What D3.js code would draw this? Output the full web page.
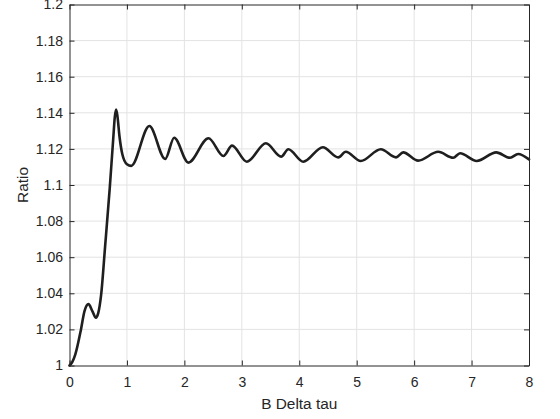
<!DOCTYPE html>
<html>
<head>
<meta charset="utf-8">
<script src="https://cdn.jsdelivr.net/npm/d3@7"></script>
<style>
  html, body { margin: 0; padding: 0; background: #fff; }
  svg { display: block; }
  text { font-family: "Liberation Sans", Arial, Helvetica, sans-serif; fill: #262626; }
</style>
</head>
<body>
<svg id="chart" width="560" height="419"></svg>
<script>
// Ratio against B·Δτ: sampled points of the response curve
const deltaTau = [0, 0.05, 0.1, 0.2, 0.26, 0.33, 0.4, 0.46, 0.5, 0.55, 0.62, 0.70, 0.76, 0.79, 0.812, 0.835, 0.87, 0.92, 1.0, 1.075,
  1.39, 1.666, 1.822, 2.07, 2.42, 2.68, 2.83, 3.087, 3.42, 3.685, 3.81, 4.07, 4.41, 4.68, 4.81, 5.07, 5.42, 5.685, 5.81, 6.07, 6.42, 6.68, 6.8, 7.09, 7.43, 7.67, 7.81, 8.0];
const ratio = [1.0, 1.002, 1.006, 1.020, 1.030, 1.034, 1.030, 1.0265, 1.029, 1.039, 1.066, 1.098, 1.125, 1.138, 1.1418, 1.138, 1.127, 1.117, 1.1115, 1.1106,
  1.1327, 1.1144, 1.1262, 1.1124, 1.1259, 1.1161, 1.1218, 1.1129, 1.1231, 1.1157, 1.1198, 1.1129, 1.1209, 1.1153, 1.1184, 1.1133, 1.1198, 1.1153, 1.1181, 1.1135, 1.1184, 1.1151, 1.1176, 1.1133, 1.1181, 1.1151, 1.1172, 1.1142];

const xTicks = [0, 1, 2, 3, 4, 5, 6, 7, 8];
const yTicks = [1, 1.02, 1.04, 1.06, 1.08, 1.1, 1.12, 1.14, 1.16, 1.18, 1.2];
const xLabel = "B Delta tau";
const yLabel = "Ratio";

const margin = { left: 69.5, right: 31, top: 4.5, bottom: 53.5 };
const W = 560, H = 419;
const svg = d3.select("#chart");

const x = d3.scaleLinear().domain([0, 8]).range([margin.left, W - margin.right]);
const y = d3.scaleLinear().domain([1, 1.2]).range([H - margin.bottom, margin.top]);

const axisColor = "#262626";
const gridColor = "#e3e3e3";
const tickLen = 5;
const tickFont = "14px";
const labelFont = "15.4px";

// grid
const grid = svg.append("g");
grid.selectAll(".gx").data(xTicks.slice(1, -1)).join("line")
  .attr("x1", d => x(d)).attr("x2", d => x(d))
  .attr("y1", y(1)).attr("y2", y(1.2))
  .attr("stroke", gridColor).attr("stroke-width", 1);
grid.selectAll(".gy").data(yTicks.slice(1, -1)).join("line")
  .attr("x1", x(0)).attr("x2", x(8))
  .attr("y1", d => y(d)).attr("y2", d => y(d))
  .attr("stroke", gridColor).attr("stroke-width", 1);

// curve
const line = d3.line()
  .x((d, i) => x(deltaTau[i]))
  .y(d => y(d))
  .curve(d3.curveMonotoneX);
svg.append("path")
  .datum(ratio)
  .attr("d", line)
  .attr("fill", "none")
  .attr("stroke", "#1f1f1f")
  .attr("stroke-width", 2.6)
  .attr("stroke-linejoin", "round")
  .attr("stroke-linecap", "round");

// axes with inward ticks, mirrored on top and right
const fmtY = d => String(+d.toFixed(2));
function styleAxis(g) {
  g.select(".domain").attr("stroke", axisColor).attr("stroke-width", 1);
  g.selectAll(".tick line").attr("stroke", axisColor).attr("stroke-width", 1);
  g.selectAll(".tick text").attr("fill", axisColor).style("font-size", tickFont)
    .style("font-family", "'Liberation Sans', Arial, Helvetica, sans-serif");
}

svg.append("g").attr("transform", `translate(0,${y(1)})`)
  .call(d3.axisBottom(x).tickValues(xTicks).tickSizeInner(-tickLen).tickSizeOuter(0).tickPadding(11.5).tickFormat(d3.format("d")))
  .call(styleAxis);
svg.append("g").attr("transform", `translate(0,${y(1.2)})`)
  .call(d3.axisTop(x).tickValues(xTicks).tickSizeInner(-tickLen).tickSizeOuter(0).tickFormat(""))
  .call(styleAxis);
svg.append("g").attr("transform", `translate(${x(0)},0)`)
  .call(d3.axisLeft(y).tickValues(yTicks).tickSizeInner(-tickLen).tickSizeOuter(0).tickPadding(6.5).tickFormat(fmtY))
  .call(styleAxis);
svg.append("g").attr("transform", `translate(${x(8)},0)`)
  .call(d3.axisRight(y).tickValues(yTicks).tickSizeInner(-tickLen).tickSizeOuter(0).tickFormat(""))
  .call(styleAxis);

// axis titles
svg.append("text")
  .attr("x", (x(0) + x(8)) / 2).attr("y", 409)
  .attr("text-anchor", "middle").style("font-size", labelFont)
  .text(xLabel);
svg.append("text")
  .attr("transform", `translate(28,${(y(1) + y(1.2)) / 2}) rotate(-90)`)
  .attr("text-anchor", "middle").style("font-size", labelFont)
  .text(yLabel);
</script>
</body>
</html>
